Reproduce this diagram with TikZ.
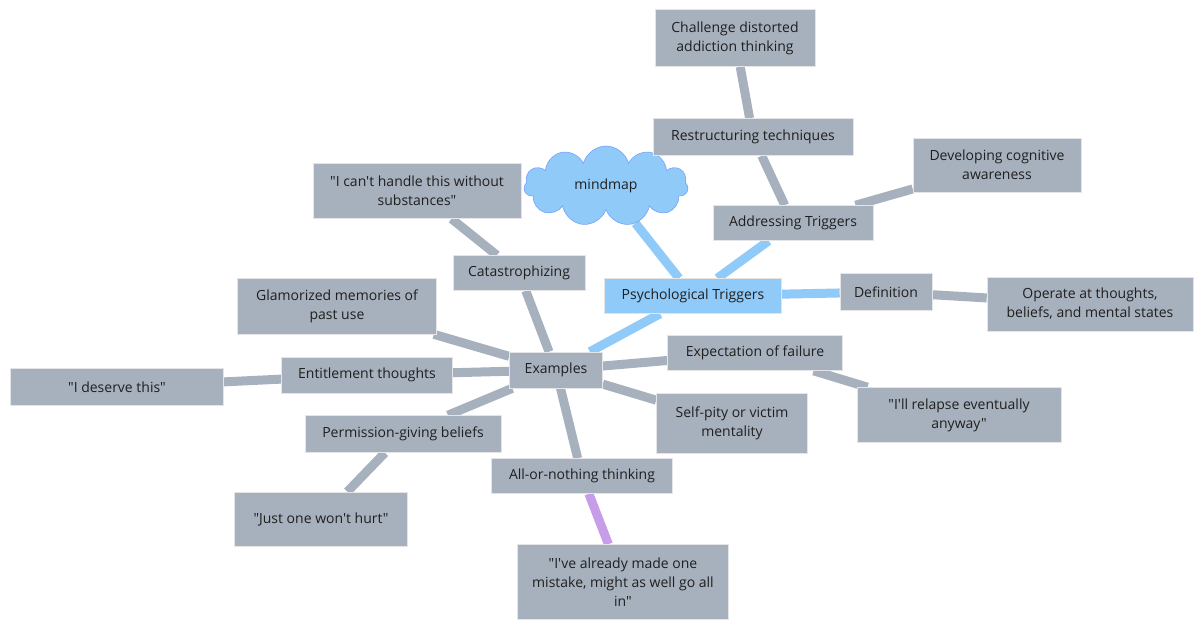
\documentclass[tikz,border=0pt]{standalone}
\usepackage{fontspec}
\setmainfont{Open Sans}[Ligatures=TeXOff]
\usetikzlibrary{positioning,shapes.symbols,backgrounds}
\definecolor{boxgray}{HTML}{A7B1BE}
\definecolor{skyblue}{HTML}{90CAF9}
\definecolor{lilac}{HTML}{C79CE8}

\begin{document}
\begin{tikzpicture}[x=1pt, y=-1pt,
  every node/.style = {font=\fontsize{14}{19}\selectfont, text=black!88, align=center},
  topic/.style = {fill=boxgray, draw=white!80!gray, line width=0.6pt, inner sep=3pt},
  main/.style = {topic, fill=skyblue},
  link/.style = {line width=9pt, draw=boxgray},
  bluelink/.style = {link, draw=skyblue},
  purplelink/.style = {link, draw=lilac}
]
\useasboundingbox (0,0) rectangle (1204,630);

% root
\node[cloud, cloud puffs=11, aspect=2.2, fill=skyblue, draw=skyblue!80!blue,
  line width=0.6pt, minimum width=164pt, minimum height=80pt] (root) at (606,186) {mindmap};
\node[main, minimum width=177pt, minimum height=35pt] (psych) at (693,296) {Psychological Triggers};

% addressing triggers
\node[topic, minimum width=160pt, minimum height=35pt] (address) at (793,223) {Addressing Triggers};
\node[topic, minimum width=200pt, minimum height=37pt] (restruct) at (753,137) {Restructuring techniques};
\node[topic, minimum width=160pt, minimum height=57pt] (challenge) at (735,38) {Challenge distorted\\addiction thinking};
\node[topic, minimum width=168pt, minimum height=54pt] (aware) at (997,165) {Developing cognitive\\awareness};

% definition
\node[topic, minimum width=92pt, minimum height=37pt] (define) at (886,292) {Definition};
\node[topic, minimum width=206pt, minimum height=54pt] (operate) at (1090,304) {Operate at thoughts,\\beliefs, and mental states};

% examples
\node[topic, minimum width=93pt, minimum height=36pt] (examples) at (556,370) {Examples};
\node[topic, minimum width=132pt, minimum height=35pt] (catas) at (519,273) {Catastrophizing};
\node[topic, minimum width=208pt, minimum height=55pt] (cant) at (417,191) {"I can't handle this without\\substances"};
\node[topic, minimum width=199pt, minimum height=56pt] (glam) at (337,306) {Glamorized memories of\\past use};
\node[topic, minimum width=171pt, minimum height=36pt] (entitle) at (367,375) {Entitlement thoughts};
\node[topic, minimum width=213pt, minimum height=37pt] (deserve) at (117,387) {"I deserve this"};
\node[topic, minimum width=196pt, minimum height=37pt] (permit) at (403,434) {Permission-giving beliefs};
\node[topic, minimum width=173pt, minimum height=54pt] (justone) at (321,519) {"Just one won't hurt"};
\node[topic, minimum width=181pt, minimum height=35pt] (allnone) at (582,476) {All-or-nothing thinking};
\node[topic, minimum width=211pt, minimum height=75pt] (mistake) at (623,582) {"I've already made one\\mistake, might as well go all\\in"};
\node[topic, minimum width=151pt, minimum height=60pt] (selfpity) at (732,423) {Self-pity or victim\\mentality};
\node[topic, minimum width=175pt, minimum height=35pt] (expect) at (755,353) {Expectation of failure};
\node[topic, minimum width=204pt, minimum height=55pt] (relapse) at (959,415) {"I'll relapse eventually\\anyway"};

\begin{pgfonlayer}{background}
\draw[bluelink] (root) -- (psych);
\draw[bluelink] (psych) -- (address);
\draw[bluelink] (psych) -- (define);
\draw[bluelink] (psych) -- (examples);
\draw[link] (address) -- (restruct);
\draw[link] (restruct) -- (challenge);
\draw[link] (address) -- (aware);
\draw[link] (define) -- (operate);
\draw[link] (examples) -- (catas);
\draw[link] (catas) -- (cant);
\draw[link] (examples) -- (glam);
\draw[link] (examples) -- (entitle);
\draw[link] (entitle) -- (deserve);
\draw[link] (examples) -- (permit);
\draw[link] (permit) -- (justone);
\draw[link] (examples) -- (allnone);
\draw[purplelink] (allnone) -- (mistake);
\draw[link] (examples) -- (selfpity);
\draw[link] (examples) -- (expect);
\draw[link] (expect) -- (relapse);
\end{pgfonlayer}
\end{tikzpicture}
\end{document}
